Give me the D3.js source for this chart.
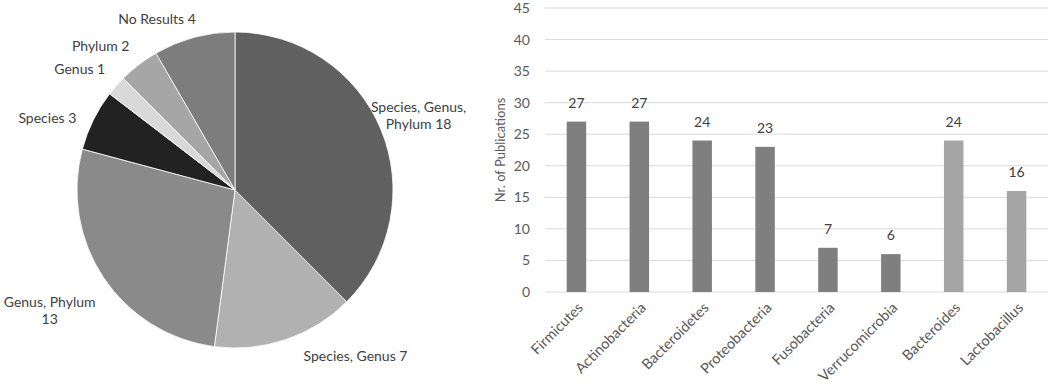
<!DOCTYPE html>
<html><head><meta charset="utf-8">
<script src="https://cdn.jsdelivr.net/npm/d3@7"></script>
<style>body{margin:0;background:#fff;overflow:hidden} text{font-family:Lato,"Open Sans",sans-serif}</style>
</head><body><svg id="c" width="1053" height="386"></svg>
<script>
// ---- data ----
const pieCategories = ["Species, Genus, Phylum", "Species, Genus", "Genus, Phylum", "Species", "Genus", "Phylum", "No Results"];
const pieValues = [18, 7, 13, 3, 1, 2, 4];
const barCategories = ["Firmicutes", "Actinobacteria", "Bacteroidetes", "Proteobacteria", "Fusobacteria", "Verrucomicrobia", "Bacteroides", "Lactobacillus"];
const barValues = [27, 27, 24, 23, 7, 6, 24, 16];
const barGroups = ["phylum", "phylum", "phylum", "phylum", "phylum", "phylum", "genus", "genus"];
const yTicks = [0, 5, 10, 15, 20, 25, 30, 35, 40, 45];
const yTitle = "Nr. of Publications";

// ---- style / layout ----
const pieColors = ["#606060", "#b1b1b1", "#8a8a8a", "#222222", "#d9d9d9", "#a6a6a6", "#7d7d7d"];
const barColors = {phylum: "#7f7f7f", genus: "#a5a5a5"};
// label placement: polar angle (deg, clockwise from top) and distance from centre; line breaks
const pieLabelLayout = [
  {angle: 68, dist: 198, lines: ["Species, Genus,", "Phylum 18"]},
  {angle: 144, dist: 205},
  {angle: 237, dist: 221, lines: ["Genus, Phylum", "13"]},
  {angle: 291, dist: 201},
  {angle: 308, dist: 197},
  {angle: 317, dist: 197},
  {angle: 335.5, dist: 188}
];

const svg = d3.select("#c");

// ---- pie ----
const cx = 235, cy = 190, R = 158;
const pieG = svg.append("g").attr("transform", `translate(${cx},${cy})`);
const pieData = d3.pie().sort(null).value(d => d)(pieValues);
const arc = d3.arc().innerRadius(0).outerRadius(R);
pieG.selectAll("path").data(pieData).join("path")
  .attr("d", arc)
  .attr("fill", (d, i) => pieColors[i])
  .attr("stroke", "#fff").attr("stroke-width", 0.8);

const lineH = 17;
pieData.forEach((d, i) => {
  const L = pieLabelLayout[i];
  const a = L.angle * Math.PI / 180;
  const x = L.dist * Math.sin(a), y = -L.dist * Math.cos(a);
  const lines = L.lines || [pieCategories[i] + " " + pieValues[i]];
  const t = pieG.append("text").attr("text-anchor", "middle")
    .attr("font-size", 14).attr("fill", "#404040");
  lines.forEach((ln, k) => {
    t.append("tspan").attr("x", x)
      .attr("y", y + (k - (lines.length - 1) / 2) * lineH)
      .attr("dy", "0.35em").text(ln);
  });
});

// ---- bar chart ----
const m = {left: 545, right: 1048, top: 8, bottom: 292};
const x = d3.scaleBand().domain(barCategories).range([m.left, m.right]).paddingInner(0.69).paddingOuter(0.345);
const y = d3.scaleLinear().domain([0, 45]).range([m.bottom, m.top]);

const grid = svg.append("g");
grid.selectAll("line").data(yTicks).join("line")
  .attr("x1", m.left).attr("x2", m.right)
  .attr("y1", d => y(d)).attr("y2", d => y(d))
  .attr("stroke", "#d9d9d9").attr("stroke-width", 1);

const yAxis = svg.append("g").attr("transform", `translate(${m.left - 15},0)`)
  .call(d3.axisLeft(y).tickValues(yTicks).tickSize(0).tickPadding(0));
yAxis.select(".domain").remove();
yAxis.selectAll("text").attr("font-size", 14).attr("fill", "#595959")
  .attr("font-family", "Lato, 'Open Sans', sans-serif");

svg.append("text").attr("transform", `translate(505,${(m.top + m.bottom) / 2}) rotate(-90)`)
  .attr("text-anchor", "middle").attr("font-size", 13).attr("fill", "#595959").text(yTitle);

svg.append("g").selectAll("rect").data(barValues).join("rect")
  .attr("x", (d, i) => x(barCategories[i]))
  .attr("width", x.bandwidth())
  .attr("y", d => y(d))
  .attr("height", d => y(0) - y(d))
  .attr("fill", (d, i) => barColors[barGroups[i]]);

svg.append("g").selectAll("text").data(barValues).join("text")
  .attr("x", (d, i) => x(barCategories[i]) + x.bandwidth() / 2)
  .attr("y", d => y(d) - 14)
  .attr("text-anchor", "middle").attr("font-size", 14).attr("fill", "#404040")
  .text(d => d);

svg.append("g").selectAll("text").data(barCategories).join("text")
  .attr("transform", d => `translate(${x(d) + x.bandwidth() / 2 + 4},${m.bottom + 13}) rotate(-45)`)
  .attr("text-anchor", "end").attr("dy", "0.35em")
  .attr("font-size", 14.5).attr("fill", "#595959").text(d => d);
</script></body></html>
